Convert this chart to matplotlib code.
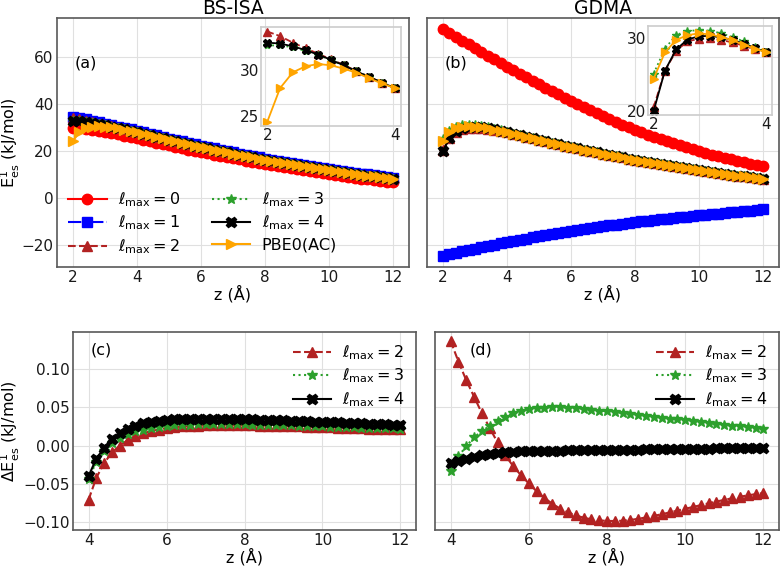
import numpy as np
import matplotlib

matplotlib.use("Agg")
import matplotlib.pyplot as plt

# separation grids (Å)
z = np.linspace(2, 12, 51)
z_near = z[:11]          # 2.0 .. 4.0, used by the insets
z_diff = np.linspace(4, 12, 41)

# shared tail for z = 4.0 .. 12.0 (PBE0(AC) and lmax >= 2 coincide there)
tail = [28.00, 27.42, 26.76, 26.10, 25.45, 24.82, 24.19, 23.57, 22.95, 22.35,
        21.76, 21.18, 20.60, 20.04, 19.48, 18.94, 18.40, 17.87, 17.35, 16.84,
        16.34, 15.85, 15.37, 14.89, 14.43, 13.98, 13.53, 13.09, 12.67, 12.25,
        11.84, 11.44, 11.05, 10.67, 10.30, 9.94, 9.58, 9.24, 8.90, 8.58, 8.26]

# z = 2.0 .. 3.8 parts
pbe0_near = [24.4, 28.0, 29.7, 30.35, 30.6, 30.45, 30.1, 29.65, 29.05, 28.5]
bsisa_l2_near = [34.1, 33.6, 32.9, 32.3, 31.7, 31.1, 30.5, 29.85, 29.2, 28.6]
bsisa_l3_near = [32.6, 32.6, 32.4, 32.0, 31.55, 31.0, 30.45, 29.8, 29.2, 28.6]
bsisa_l4_near = [32.9, 32.8, 32.5, 32.1, 31.6, 31.05, 30.45, 29.8, 29.2, 28.6]
gdma_l2_near = [20.5, 25.5, 28.2, 29.5, 29.85, 29.9, 29.7, 29.35, 28.9, 28.4]
gdma_l3_near = [25.1, 28.5, 30.4, 30.9, 31.05, 30.95, 30.6, 30.1, 29.5, 28.8]
gdma_l4_near = [20.0, 25.5, 28.4, 29.75, 30.2, 30.25, 30.05, 29.7, 29.2, 28.6]

bsisa_l0 = [29.80, 29.72, 29.44, 29.08, 28.64, 28.20, 27.66, 27.07, 26.58, 26.04,
            25.50, 24.86, 24.24, 23.62, 23.01, 22.42, 21.83, 21.25, 20.67, 20.11,
            19.56, 19.02, 18.48, 17.96, 17.44, 16.94, 16.42, 15.91, 15.41, 14.92,
            14.44, 13.97, 13.51, 13.05, 12.61, 12.18, 11.75, 11.33, 10.93, 10.53,
            10.14, 9.75, 9.37, 9.00, 8.64, 8.29, 7.94, 7.61, 7.28, 6.97, 6.66]
bsisa_l1 = [34.60, 34.10, 33.45, 32.85, 32.25, 31.65, 31.05, 30.40, 29.85, 29.25,
            28.65, 27.96, 27.30, 26.64, 25.99, 25.35, 24.72, 24.10, 23.48, 22.87,
            22.28, 21.70, 21.12, 20.56, 20.00, 19.45, 18.91, 18.38, 17.86, 17.35,
            16.84, 16.35, 15.87, 15.39, 14.93, 14.47, 14.02, 13.58, 13.15, 12.73,
            12.32, 11.92, 11.53, 11.15, 10.78, 10.42, 10.06, 9.71, 9.37, 9.04, 8.72]
gdma_l0 = [71.80, 70.20, 68.60, 67.00, 65.40, 63.80, 62.20, 60.60, 59.00, 57.40,
           55.80, 54.30, 52.81, 51.34, 49.88, 48.44, 47.01, 45.59, 44.18, 42.78,
           41.40, 40.04, 38.70, 37.38, 36.08, 34.80, 33.56, 32.35, 31.17, 30.06,
           29.00, 27.98, 26.98, 26.00, 25.04, 24.10, 23.24, 22.40, 21.58, 20.78,
           20.00, 19.26, 18.54, 17.84, 17.16, 16.50, 15.86, 15.24, 14.64, 14.06, 13.50]
gdma_l1 = [-24.50, -23.88, -23.27, -22.67, -22.08, -21.50, -20.93, -20.37, -19.82, -19.28,
           -18.75, -18.23, -17.72, -17.22, -16.73, -16.25, -15.78, -15.32, -14.87, -14.43,
           -14.00, -13.58, -13.17, -12.77, -12.38, -12.00, -11.63, -11.27, -10.92, -10.58,
           -10.25, -9.95, -9.65, -9.36, -9.07, -8.78, -8.50, -8.22, -7.94, -7.66,
           -7.39, -7.12, -6.85, -6.59, -6.33, -6.07, -5.82, -5.57, -5.32, -5.07, -4.83]

# Delta E (kJ/mol), z = 4.0 .. 12.0
d_bsisa_l2 = [-0.071, -0.042, -0.023, -0.009, 0.000, 0.007, 0.012, 0.016, 0.019, 0.021,
              0.023, 0.024, 0.025, 0.0255, 0.026, 0.0263, 0.0265, 0.0266, 0.0266, 0.0266,
              0.0265, 0.0264, 0.0262, 0.026, 0.0258, 0.0256, 0.0253, 0.025, 0.0247, 0.0244,
              0.0241, 0.0238, 0.0235, 0.0232, 0.0229, 0.0226, 0.0223, 0.022, 0.0217, 0.0214, 0.0211]
d_bsisa_l3 = [-0.044, -0.021, -0.007, 0.003, 0.010, 0.015, 0.0185, 0.021, 0.023, 0.0245,
              0.0255, 0.0263, 0.0269, 0.0273, 0.0276, 0.0278, 0.0279, 0.0279, 0.0279, 0.0278,
              0.0277, 0.0275, 0.0273, 0.0271, 0.0269, 0.0266, 0.0263, 0.026, 0.0257, 0.0254,
              0.0251, 0.0248, 0.0245, 0.0242, 0.0239, 0.0236, 0.0233, 0.023, 0.0227, 0.0224, 0.0221]
d_bsisa_l4 = [-0.040, -0.017, -0.003, 0.008, 0.016, 0.022, 0.026, 0.029, 0.031, 0.0325,
              0.0335, 0.0342, 0.0347, 0.035, 0.0352, 0.0353, 0.0353, 0.0352, 0.0351, 0.0349,
              0.0347, 0.0344, 0.0341, 0.0338, 0.0335, 0.0331, 0.0327, 0.0323, 0.0319, 0.0315,
              0.0311, 0.0307, 0.0303, 0.0299, 0.0295, 0.0291, 0.0287, 0.0283, 0.0279, 0.0275, 0.0271]
d_gdma_l2 = [0.137, 0.110, 0.0855, 0.0639, 0.0423, 0.0229, 0.0040, -0.0130, -0.0270, -0.0390,
             -0.0497, -0.0600, -0.0688, -0.0762, -0.0827, -0.0875, -0.0915, -0.0946, -0.0967, -0.0980,
             -0.0988, -0.0989, -0.0985, -0.0975, -0.0960, -0.0942, -0.0922, -0.0900, -0.0877, -0.0853,
             -0.0829, -0.0805, -0.0781, -0.0757, -0.0734, -0.0712, -0.0691, -0.0671, -0.0653, -0.0637, -0.0622]
d_gdma_l3 = [-0.033, -0.014, -0.001, 0.011, 0.0186, 0.026, 0.0328, 0.038, 0.0423, 0.0453,
             0.0475, 0.0488, 0.0497, 0.0501, 0.0501, 0.0497, 0.0490, 0.0481, 0.0470, 0.0459,
             0.0448, 0.0437, 0.0426, 0.0414, 0.0402, 0.0390, 0.0378, 0.0366, 0.0354, 0.0342,
             0.0330, 0.0318, 0.0306, 0.0294, 0.0283, 0.0272, 0.0261, 0.0250, 0.0239, 0.0228, 0.0217]
d_gdma_l4 = [-0.0225, -0.0200, -0.0173, -0.0147, -0.0125, -0.0108, -0.0096, -0.0088, -0.0082, -0.0078,
             -0.0075, -0.0072, -0.0070, -0.0068, -0.0066, -0.0064, -0.0063, -0.0061, -0.0060, -0.0058,
             -0.0057, -0.0056, -0.0054, -0.0053, -0.0052, -0.0050, -0.0049, -0.0048, -0.0046, -0.0045,
             -0.0044, -0.0042, -0.0041, -0.0040, -0.0038, -0.0037, -0.0036, -0.0034, -0.0033, -0.0032, -0.0030]

pbe0 = pbe0_near + tail
bsisa = [bsisa_l0, bsisa_l1, bsisa_l2_near + tail, bsisa_l3_near + tail, bsisa_l4_near + tail, pbe0]
gdma = [gdma_l0, gdma_l1, gdma_l2_near + tail, gdma_l3_near + tail, gdma_l4_near + tail, pbe0]

labels = [r"$\ell_{\mathrm{max}} = %d$" % i for i in range(5)] + ["PBE0(AC)"]
styles = [
    dict(color="red", ls="-", marker="o"),
    dict(color="blue", ls="-.", marker="s"),
    dict(color="firebrick", ls="--", marker="^"),
    dict(color="tab:green", ls=":", marker="*"),
    dict(color="black", ls="-", marker="X"),
    dict(color="orange", ls="-", marker=">"),
]

plt.rcParams["font.family"] = ["DejaVu Sans"]
plt.rcParams["font.size"] = 11
plt.rcParams["mathtext.fontset"] = "dejavusans"


def style_ax(ax, edge="0.35", grid=True):
    for s in ax.spines.values():
        s.set_color(edge)
        s.set_linewidth(1.2)
    ax.tick_params(length=0, labelsize=11, pad=2.5, colors="0.1")
    if grid:
        ax.grid(True, color="0.88", lw=0.8)
        ax.set_axisbelow(True)


fig = plt.figure(figsize=(7.8, 5.66), dpi=100)
W, H = 780, 566


def px_axes(x0, y0, x1, y1, **kw):
    return fig.add_axes([x0 / W, 1 - y1 / H, (x1 - x0) / W, (y1 - y0) / H], **kw)


ax_a = px_axes(57, 18, 409, 267)
ax_b = px_axes(427, 18, 779, 267, sharey=ax_a)
ax_c = px_axes(73, 332, 416, 530)
ax_d = px_axes(435, 332, 779, 530, sharey=ax_c)

for ax, data, title, tag in [(ax_a, bsisa, "BS-ISA", "(a)"), (ax_b, gdma, "GDMA", "(b)")]:
    style_ax(ax)
    for y, lab, st in zip(data, labels, styles):
        ax.plot(z, y, lw=1.5, ms=7.5, label=lab, **st)
    ax.set_title(title, fontsize=13.5, pad=1.5)
    ax.set_xlabel("z (Å)", fontsize=11.5, labelpad=0)
    ax.set_xticks([2, 4, 6, 8, 10, 12])
    ax.text(0.05, 0.82, tag, transform=ax.transAxes, fontsize=11.5, va="center")

ax_a.set_ylabel(r"E$^{1}_{\mathrm{es}}$ (kJ/mol)", fontsize=11.5)
ax_a.yaxis.set_label_coords((22 - 57) / 352, 0.5)
ax_a.set_yticks([-20, 0, 20, 40, 60])
ax_b.tick_params(labelleft=False)
ax_a.legend(ncol=2, loc="lower left", frameon=False, fontsize=11.5,
            handlelength=2.4, columnspacing=2.0, labelspacing=0.3,
            borderaxespad=0.3, handletextpad=0.7)

# insets
for data, box, yt in [(bsisa, (261, 27, 401, 126), [25, 30]),
                      (gdma, (648, 26, 772, 115), [20, 30])]:
    ins = px_axes(*box)
    ins.patch.set_alpha(0)
    style_ax(ins, edge="0.8", grid=False)
    for y, st in list(zip(data, styles))[2:]:
        ins.plot(z_near, y[:11], lw=1.3, ms=6, **st)
    ins.set_xticks([2, 4])
    ins.set_yticks(yt)
    ins.tick_params(pad=1.5)

for ax, data, tag, tx in [(ax_c, [d_bsisa_l2, d_bsisa_l3, d_bsisa_l4], "(c)", 0.05),
                          (ax_d, [d_gdma_l2, d_gdma_l3, d_gdma_l4], "(d)", 0.10)]:
    style_ax(ax)
    for y, lab, st in zip(data, labels[2:5], styles[2:5]):
        ax.plot(z_diff, y, lw=1.5, ms=7.5, label=lab, **st)
    ax.set_xlabel("z (Å)", fontsize=11.5, labelpad=0)
    ax.set_xticks([4, 6, 8, 10, 12])
    ax.text(tx, 0.91, tag, transform=ax.transAxes, fontsize=11.5, va="center")
    ax.legend(loc="upper right", frameon=False, fontsize=11.5,
              handlelength=2.4, labelspacing=0.3, borderaxespad=0.3, handletextpad=0.7)

ax_c.set_ylabel(r"$\Delta$E$^{1}_{\mathrm{es}}$ (kJ/mol)", fontsize=11.5)
ax_c.yaxis.set_label_coords((22 - 73) / 343, 0.5)
ax_c.set_yticks([-0.10, -0.05, 0.00, 0.05, 0.10])
ax_d.tick_params(labelleft=False)

fig.savefig("out.png", dpi=100, facecolor="white")
